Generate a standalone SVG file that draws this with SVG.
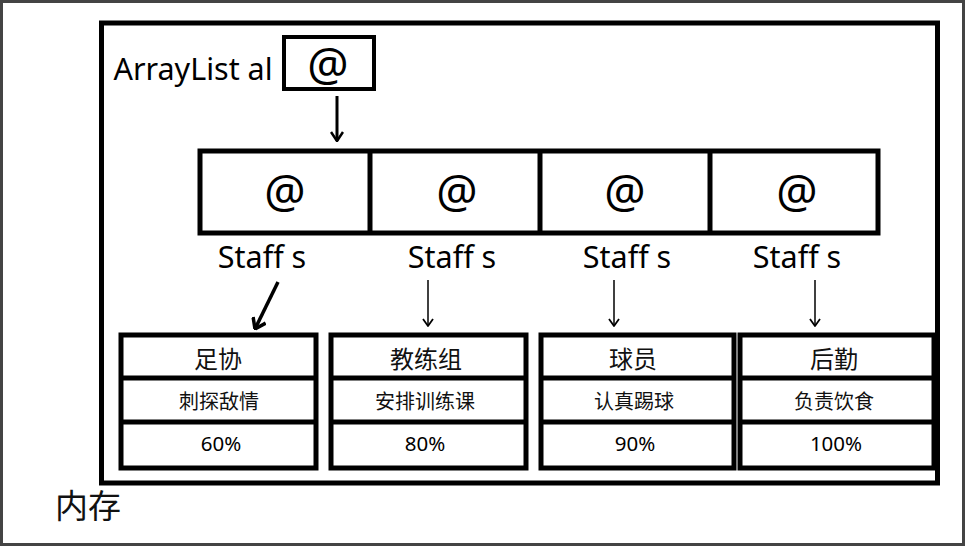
<svg xmlns="http://www.w3.org/2000/svg" width="965" height="546" viewBox="0 0 965 546">
<defs>
<style>
.b{fill:none;stroke:#000;stroke-width:5}
.t{font-family:"Noto Sans","Noto Sans CJK SC",sans-serif;fill:#000;text-anchor:middle}
.cjk{font-family:"Noto Sans CJK SC","Noto Sans",sans-serif;fill:#111;text-anchor:middle}
.c{fill:none;stroke:#000}
</style>
<marker id="ah" viewBox="0 0 12 12" refX="11" refY="6" markerWidth="12" markerHeight="12" markerUnits="userSpaceOnUse" orient="auto">
<path d="M4,1 L11,6 L4,11" fill="none" stroke="#000" stroke-width="1.8" stroke-linejoin="round"/>
</marker>
<marker id="ahm" viewBox="0 0 14 14" refX="13" refY="7" markerWidth="14" markerHeight="14" markerUnits="userSpaceOnUse" orient="auto">
<path d="M4,1 L13,7 L4,13" fill="none" stroke="#000" stroke-width="2.5" stroke-linejoin="round"/>
</marker>
<marker id="ahb" viewBox="0 0 16 16" refX="15" refY="8" markerWidth="16" markerHeight="16" markerUnits="userSpaceOnUse" orient="auto">
<path d="M5,1 L15,8 L5,15" fill="none" stroke="#000" stroke-width="3.5" stroke-linejoin="round"/>
</marker>
</defs>
<rect x="0" y="0" width="965" height="546" fill="#fff"/>
<rect x="1.5" y="1.5" width="962" height="543" fill="none" stroke="#444" stroke-width="3"/>
<g id="memory">
<rect class="b" x="101.5" y="23" width="836" height="460"/>
<text class="cjk" x="88" y="518" font-size="33">内存</text>
</g>
<g id="arraylist">
<text class="t" x="193" y="80" font-size="30.5">ArrayList al</text>
<rect class="b" x="284" y="37" width="90" height="52" style="stroke-width:4"/>
<text class="t" x="328" y="81" font-size="46">@</text>
</g>
<g id="array">
<rect class="b" x="200" y="151" width="678" height="82"/>
<line class="b" x1="370" y1="151" x2="370" y2="233"/>
<line class="b" x1="540" y1="151" x2="540" y2="233"/>
<line class="b" x1="710" y1="151" x2="710" y2="233"/>
<text class="t" x="285" y="208" font-size="46">@</text>
<text class="t" x="457" y="208" font-size="46">@</text>
<text class="t" x="625" y="208" font-size="46">@</text>
<text class="t" x="797" y="208" font-size="46">@</text>
<text class="t" x="262" y="268" font-size="30.5">Staff s</text>
<text class="t" x="452" y="268" font-size="30.5">Staff s</text>
<text class="t" x="627" y="268" font-size="30.5">Staff s</text>
<text class="t" x="797" y="268" font-size="30.5">Staff s</text>
</g>
<g id="staff1">
<rect class="b" x="121" y="335" width="195" height="133"/>
<line class="b" x1="121" y1="378" x2="316" y2="378"/>
<line class="b" x1="121" y1="422" x2="316" y2="422"/>
<text class="cjk" x="218" y="368" font-size="24">足协</text>
<text class="cjk" x="219" y="409" font-size="20">刺探敌情</text>
<text class="t" x="221" y="451" font-size="20.5">60%</text>
</g>
<g id="staff2">
<rect class="b" x="331" y="335" width="195" height="133"/>
<line class="b" x1="331" y1="378" x2="526" y2="378"/>
<line class="b" x1="331" y1="422" x2="526" y2="422"/>
<text class="cjk" x="426" y="368" font-size="24">教练组</text>
<text class="cjk" x="425" y="409" font-size="20">安排训练课</text>
<text class="t" x="425" y="451" font-size="20.5">80%</text>
</g>
<g id="staff3">
<rect class="b" x="541" y="335" width="193" height="133"/>
<line class="b" x1="541" y1="378" x2="734" y2="378"/>
<line class="b" x1="541" y1="422" x2="734" y2="422"/>
<text class="cjk" x="633" y="368" font-size="24">球员</text>
<text class="cjk" x="634" y="409" font-size="20">认真踢球</text>
<text class="t" x="635" y="451" font-size="20.5">90%</text>
</g>
<g id="staff4">
<rect class="b" x="740" y="335" width="194" height="133"/>
<line class="b" x1="740" y1="378" x2="934" y2="378"/>
<line class="b" x1="740" y1="422" x2="934" y2="422"/>
<text class="cjk" x="834" y="368" font-size="24">后勤</text>
<text class="cjk" x="834" y="409" font-size="20">负责饮食</text>
<text class="t" x="836" y="451" font-size="20.5">100%</text>
</g>
<g id="connectors">
<line class="c" x1="337" y1="96" x2="337" y2="141" stroke-width="3" marker-end="url(#ahm)"/>
<line class="c" x1="278" y1="282" x2="255" y2="329" stroke-width="3.5" marker-end="url(#ahb)"/>
<line class="c" x1="428" y1="280" x2="428" y2="326" stroke-width="1.5" marker-end="url(#ah)"/>
<line class="c" x1="614" y1="280" x2="614" y2="326" stroke-width="1.5" marker-end="url(#ah)"/>
<line class="c" x1="815" y1="280" x2="815" y2="326" stroke-width="1.5" marker-end="url(#ah)"/>
</g>
</svg>
